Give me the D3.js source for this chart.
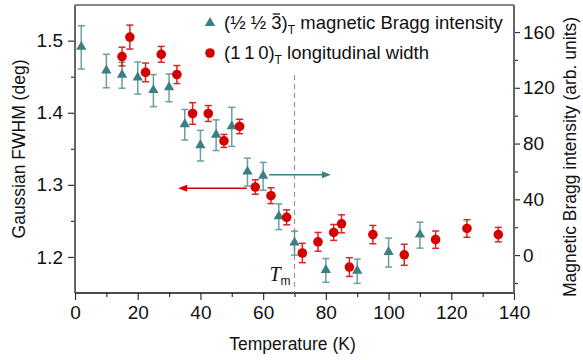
<!DOCTYPE html>
<html>
<head>
<meta charset="utf-8">
<script src="https://cdn.jsdelivr.net/npm/d3@7"></script>
<style>
  body { margin: 0; background: #fff; }
  svg text { font-family: "Liberation Sans", Arial, sans-serif; fill: #111; }
</style>
</head>
<body>
<svg id="chart" width="583" height="360"></svg>
<script>
// magnetic Bragg intensity (right axis)
const magTemp = [2, 10, 15, 20, 25, 30, 35, 40, 45, 50, 55, 60, 65, 70, 80, 90, 100, 110];
const magInt = [149, 132, 129, 127, 118, 120, 93.5, 78.5, 86, 92, 59.5, 56.5, 27.5, 8.6, -11, -11.6, 1.8, 14.3];
const magErr = [15.5, 12, 9.3, 11.5, 11.5, 10, 11, 11, 11, 14, 10, 10, 9.2, 8.6, 8.5, 8.7, 10.4, 9.3];

// longitudinal width FWHM (left axis)
const widTemp = [15, 17.5, 22.5, 27.5, 32.5, 37.5, 42.5, 47.5, 52.5, 57.5, 62.5, 67.5, 72.5, 77.5, 82.5, 85, 87.5, 95, 105, 115, 125, 135];
const widVal = [1.478, 1.505, 1.456, 1.481, 1.453, 1.399, 1.399, 1.361, 1.381, 1.297, 1.285, 1.255, 1.2055, 1.221, 1.234, 1.246, 1.186, 1.231, 1.203, 1.224, 1.2395, 1.231];
const widErr = [0.013, 0.0166, 0.013, 0.011, 0.0125, 0.015, 0.011, 0.009, 0.010, 0.010, 0.011, 0.0104, 0.0134, 0.013, 0.011, 0.0125, 0.013, 0.0127, 0.0146, 0.012, 0.0122, 0.010];

const xTicks = [0, 20, 40, 60, 80, 100, 120, 140];
const leftTicks = [1.2, 1.3, 1.4, 1.5];
const rightTicks = [0, 40, 80, 120, 160];
const tm = 70;

const teal = "#3b7f80";
const red = "#d40000";

const svg = d3.select("#chart");
const margin = { top: 5, right: 69, bottom: 67, left: 75 };
const width = +svg.attr("width") - margin.left - margin.right;
const height = +svg.attr("height") - margin.top - margin.bottom;
const g = svg.append("g").attr("transform", `translate(${margin.left},${margin.top})`);

const x = d3.scaleLinear().domain([0, 140]).range([0, width]);
const yL = d3.scaleLinear().domain([1.15, 1.5495]).range([height, 0]);
const yR = d3.scaleLinear().domain([-27.2, 179.4]).range([height, 0]);

// minor ticks
g.append("g").attr("transform", `translate(0,${height})`)
  .call(d3.axisBottom(x).tickValues(d3.range(10, 140, 20)).tickSize(4).tickFormat(""))
  .call(a => a.select(".domain").remove());
g.append("g")
  .call(d3.axisLeft(yL).tickValues([1.25, 1.35, 1.45]).tickSize(4).tickFormat(""))
  .call(a => a.select(".domain").remove());
g.append("g").attr("transform", `translate(${width},0)`)
  .call(d3.axisRight(yR).tickValues([-20, 20, 60, 100, 140]).tickSize(4).tickFormat(""))
  .call(a => a.select(".domain").remove());

// major axes
const xAxis = g.append("g").attr("transform", `translate(0,${height})`)
  .call(d3.axisBottom(x).tickValues(xTicks).tickSize(7).tickPadding(6));
const lAxis = g.append("g")
  .call(d3.axisLeft(yL).tickValues(leftTicks).tickSize(7).tickPadding(5).tickFormat(d3.format(".1f")));
const rAxis = g.append("g").attr("transform", `translate(${width},0)`)
  .call(d3.axisRight(yR).tickValues(rightTicks).tickSize(6).tickPadding(3));

[xAxis, lAxis, rAxis].forEach(a => {
  a.selectAll("text").style("font-size", "19px").attr("fill", "#111");
});
g.selectAll(".tick line").attr("stroke", "#333").attr("stroke-width", 1.2);
g.selectAll(".domain").remove();

// frame
g.append("line").attr("x1", 0).attr("x2", width).attr("y1", height).attr("y2", height)
  .attr("stroke", "#111").attr("stroke-width", 1.5);
g.append("line").attr("x1", 0).attr("x2", width).attr("y1", 0).attr("y2", 0)
  .attr("stroke", "#111").attr("stroke-width", 1.2);
g.append("line").attr("x1", 0).attr("x2", 0).attr("y1", 0).attr("y2", height)
  .attr("stroke", "#666").attr("stroke-width", 2);
g.append("line").attr("x1", width).attr("x2", width).attr("y1", 0).attr("y2", height)
  .attr("stroke", "#666").attr("stroke-width", 2);

// Tm dashed line
g.append("line")
  .attr("x1", x(tm)).attr("x2", x(tm))
  .attr("y1", 70).attr("y2", height)
  .attr("stroke", "#999").attr("stroke-width", 1.2)
  .attr("stroke-dasharray", "5,4");

const tmLabel = g.append("text")
  .attr("x", x(tm) - 4).attr("y", 276)
  .attr("text-anchor", "end")
  .style("font-size", "20px");
tmLabel.append("tspan").style("font-style", "italic")
  .style("font-family", "'Liberation Serif', 'Times New Roman', serif").text("T");
tmLabel.append("tspan").attr("dy", 4).style("font-size", "12px").text("m");

// arrows
function arrow(x0, x1, y, color) {
  const dir = Math.sign(x1 - x0);
  g.append("line").attr("x1", x0).attr("x2", x1 - dir * 6).attr("y1", y).attr("y2", y)
    .attr("stroke", color).attr("stroke-width", 1.5);
  g.append("path")
    .attr("d", `M${x1},${y} L${x1 - dir * 9},${y - 3.5} L${x1 - dir * 9},${y + 3.5} Z`)
    .attr("fill", color);
}
arrow(x(54.8), x(32.9), yL(1.2953), red);
arrow(x(61.9), x(81.6), yR(57.6), teal);

// error bars helper
function errBars(xs, ys, es, yScale, color, op) {
  const eg = g.append("g").attr("stroke", color).attr("stroke-width", 1.5).attr("opacity", op);
  xs.forEach((t, i) => {
    const cx = x(t), y0 = yScale(ys[i] - es[i]), y1 = yScale(ys[i] + es[i]);
    eg.append("line").attr("x1", cx).attr("x2", cx).attr("y1", y0).attr("y2", y1);
    eg.append("line").attr("x1", cx - 3.5).attr("x2", cx + 3.5).attr("y1", y0).attr("y2", y0);
    eg.append("line").attr("x1", cx - 3.5).attr("x2", cx + 3.5).attr("y1", y1).attr("y2", y1);
  });
}

// magnetic intensity: triangles
errBars(magTemp, magInt, magErr, yR, teal, 0.75);
const tri = d3.symbol().type(d3.symbolTriangle).size(46);
g.selectAll(".tri")
  .data(magTemp)
  .enter()
  .append("path")
  .attr("class", "tri")
  .attr("d", tri)
  .attr("transform", (d, i) => `translate(${x(d)},${yR(magInt[i]) - 0.5})`)
  .attr("fill", teal);

// width: circles
errBars(widTemp, widVal, widErr, yL, red, 0.85);
g.selectAll(".dot")
  .data(widTemp)
  .enter()
  .append("circle")
  .attr("class", "dot")
  .attr("cx", d => x(d))
  .attr("cy", (d, i) => yL(widVal[i]))
  .attr("r", 4.8)
  .attr("fill", red);

// legend
svg.append("path").attr("d", tri).attr("transform", "translate(210,23)").attr("fill", teal);
svg.append("circle").attr("cx", 210).attr("cy", 53).attr("r", 4.8).attr("fill", red);

const leg1 = svg.append("text").attr("x", 224).attr("y", 29).style("font-size", "18.5px");
leg1.append("tspan").text("(½ ½ 3)");
leg1.append("tspan").attr("dy", 5).style("font-size", "12px").text("T");
leg1.append("tspan").attr("dy", -5).text(" magnetic Bragg intensity");
// overbar on the 3
const node = leg1.node();
const ext = node.getExtentOfChar("(½ ½ 3)".indexOf("3"));
svg.append("line")
  .attr("x1", ext.x + 1.5).attr("x2", ext.x + ext.width - 1.5)
  .attr("y1", 14).attr("y2", 14)
  .attr("stroke", "#111").attr("stroke-width", 1.3);

const leg2 = svg.append("text").attr("x", 224).attr("y", 59).style("font-size", "18.5px");
leg2.append("tspan").text("(1\u20091\u20090)");
leg2.append("tspan").attr("dy", 5).style("font-size", "12px").text("T");
leg2.append("tspan").attr("dy", -5).text(" longitudinal width");

// axis titles
svg.append("text")
  .attr("x", margin.left + width / 2 - 2).attr("y", 350)
  .attr("text-anchor", "middle")
  .style("font-size", "17.5px")
  .text("Temperature (K)");

svg.append("text")
  .attr("transform", `translate(25,${margin.top + height / 2}) rotate(-90)`)
  .attr("text-anchor", "middle")
  .style("font-size", "17.5px")
  .text("Gaussian FWHM (deg)");

svg.append("text")
  .attr("transform", `translate(576,157) rotate(-90)`)
  .attr("text-anchor", "middle")
  .style("font-size", "17.5px")
  .text("Magnetic Bragg intensity (arb. units)");
</script>
</body>
</html>
